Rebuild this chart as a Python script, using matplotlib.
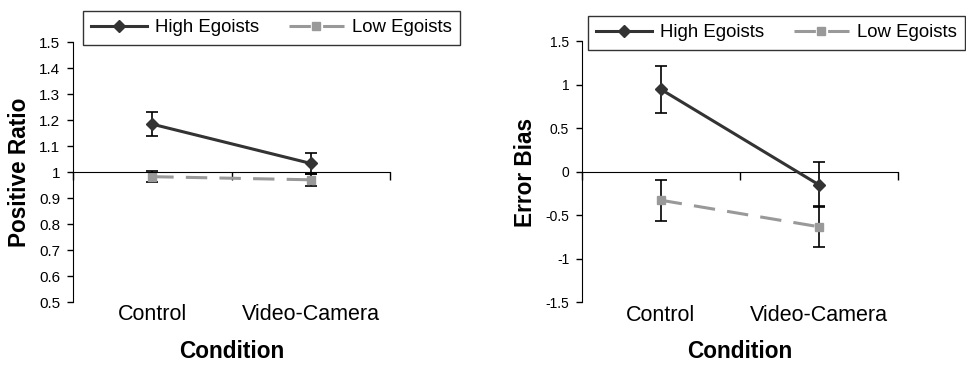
import matplotlib
matplotlib.use("Agg")
import matplotlib.pyplot as plt
from matplotlib.lines import Line2D
from matplotlib.ticker import FuncFormatter

plt.rcParams['font.family'] = ['Liberation Sans', 'DejaVu Sans']
plt.rcParams['axes.unicode_minus'] = False

conditions = ["Control", "Video-Camera"]
series = ["High Egoists", "Low Egoists"]

# Positive Ratio
ratio_high = [1.184, 1.033]
ratio_high_err = [0.045, 0.042]
ratio_low = [0.982, 0.970]
ratio_low_err = [0.022, 0.022]

# Error Bias
bias_high = [0.945, -0.153]
bias_high_err = [0.27, 0.26]
bias_low = [-0.33, -0.635]
bias_low_err = [0.235, 0.235]

dark = "#333333"
light = "#999999"
dash = (0, (7, 4))
xpos = [0.5, 1.5]

fig = plt.figure(figsize=(9.66, 3.65), dpi=100)
ax1 = fig.add_axes([73/966, 1-302/365, 317/966, 260/365])
ax2 = fig.add_axes([581.7/966, 1-302/365, 316.3/966, 261/365])


def draw(ax, high, high_err, low, low_err, ylim, step, cross, ylabel, lab_x, tick_fs, leg_x, leg_y):
    ax.errorbar(xpos, high, yerr=high_err, color=dark, lw=2.2, marker="D", ms=6,
                ecolor="black", elinewidth=1.2, capsize=4, capthick=1.2, zorder=3)
    ax.errorbar(xpos, low, yerr=low_err, color=light, lw=2.2, ls=dash, marker="s", ms=6,
                ecolor="black", elinewidth=1.2, capsize=4, capthick=1.2, zorder=2)
    ax.set_xlim(0, 2)
    ax.set_ylim(*ylim)
    n = int(round((ylim[1] - ylim[0]) / step))
    ax.set_yticks([ylim[0] + i * step for i in range(n + 1)])
    ax.yaxis.set_major_formatter(FuncFormatter(lambda v, p: "%g" % round(v, 2)))
    ax.spines['top'].set_visible(False)
    ax.spines['right'].set_visible(False)
    ax.spines['bottom'].set_position(('data', cross))
    ax.set_xticks([0, 1, 2])
    ax.set_xticklabels([])
    ax.tick_params(axis='x', direction='out', length=6, width=1)
    ax.tick_params(axis='y', direction='out', length=4, width=1, labelsize=tick_fs, pad=5)
    for x, c in zip(xpos, conditions):
        ax.text(x, -0.05, c, transform=ax.get_xaxis_transform(), ha='center', va='center', fontsize=15.5)
    ax.text(0.5, -0.19, "Condition", transform=ax.transAxes, ha='center', va='center',
            fontsize=16.3, fontweight='bold')
    fig.text(lab_x / 966, 1 - 172 / 365, ylabel, rotation=90, ha='center', va='center',
             fontsize=16.3, fontweight='bold')
    handles = [Line2D([], [], color=dark, lw=2.2, marker="D", ms=6),
               Line2D([], [], color=light, lw=2.2, ls=dash, marker="s", ms=6)]
    leg = fig.legend(handles=handles, labels=series, ncol=2,
                     loc='upper left', bbox_to_anchor=(leg_x, leg_y), bbox_transform=fig.transFigure,
                     fontsize=13.4, frameon=True, fancybox=False, handlelength=3.0,
                     handletextpad=0.4, columnspacing=1.6, borderpad=0.45, borderaxespad=0)
    leg.get_frame().set_edgecolor("black")
    leg.get_frame().set_linewidth(1.0)


draw(ax1, ratio_high, ratio_high_err, ratio_low, ratio_low_err, (0.5, 1.5), 0.1, 1.0,
     "Positive Ratio", 20, 11, 83/966, 1-11/365)
draw(ax2, bias_high, bias_high_err, bias_low, bias_low_err, (-1.5, 1.5), 0.5, 0.0,
     "Error Bias", 526, 10, 588/966, 1-16/365)

fig.savefig("out.png", dpi=100)
